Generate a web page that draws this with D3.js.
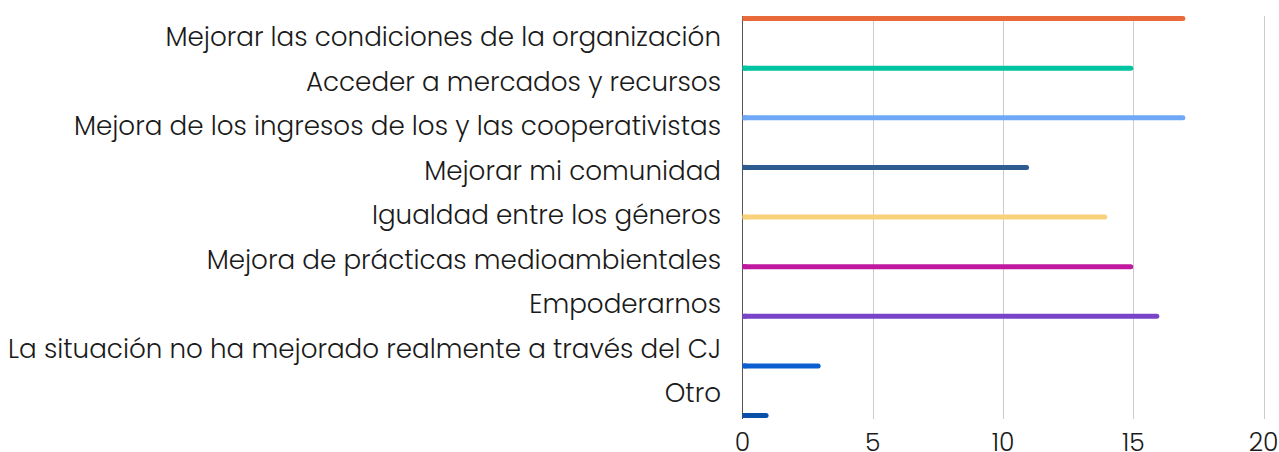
<!DOCTYPE html>
<html>
<head>
<meta charset="utf-8">
<script src="https://cdn.jsdelivr.net/npm/d3@7"></script>
<style>
  body { margin: 0; background: #fff; }
  text { font-family: "Poppins", "Open Sans", sans-serif; font-weight: 300; fill: #1a1a1a; }
</style>
</head>
<body>
<div id="chart"></div>
<script>
var categories = [
  "Mejorar las condiciones de la organización",
  "Acceder a mercados y recursos",
  "Mejora de los ingresos de los y las cooperativistas",
  "Mejorar mi comunidad",
  "Igualdad entre los géneros",
  "Mejora de prácticas medioambientales",
  "Empoderarnos",
  "La situación no ha mejorado realmente a través del CJ",
  "Otro"
];
var values = [17, 15, 17, 11, 14, 15, 16, 3, 1];
var colors = ["#E8693A", "#00C4A0", "#6EA8F7", "#2E5C91", "#F8D17A",
              "#C0189F", "#7A44C8", "#0B5ED0", "#0A4FA8"];
var ticks = [0, 5, 10, 15, 20];

var svgWidth = 1279;
var svgHeight = 452;

var svg = d3.select("#chart")
  .append("svg")
  .attr("width", svgWidth)
  .attr("height", svgHeight);

// scales
var x = d3.scaleLinear().domain([0, 20]).range([742.5, 1263.5]);
var yBar = d3.scalePoint().domain(categories).range([18.5, 415.5]);
var yLabel = d3.scalePoint().domain(categories).range([37, 393]);

// gridlines
svg.append("g")
  .selectAll("line")
  .data(ticks.slice(1))
  .enter()
  .append("line")
  .attr("x1", d => Math.round(x(d)) + 0.5)
  .attr("x2", d => Math.round(x(d)) + 0.5)
  .attr("y1", 16)
  .attr("y2", 419)
  .attr("stroke", "#cccccc")
  .attr("stroke-width", 1);

// axis line
svg.append("line")
  .attr("x1", x(0))
  .attr("x2", x(0))
  .attr("y1", 16)
  .attr("y2", 419)
  .attr("stroke", "#555")
  .attr("stroke-width", 1);

// bars (round cap ends exactly at the value)
svg.append("g")
  .selectAll("line")
  .data(values)
  .enter()
  .append("line")
  .attr("x1", x(0) + 2.5)
  .attr("x2", d => x(d) - 2.5)
  .attr("y1", (d, i) => yBar(categories[i]))
  .attr("y2", (d, i) => yBar(categories[i]))
  .attr("stroke", (d, i) => colors[i])
  .attr("stroke-width", 5)
  .attr("stroke-linecap", "round");

// square left end against the axis
svg.append("g")
  .selectAll("rect")
  .data(values)
  .enter()
  .append("rect")
  .attr("x", x(0))
  .attr("y", (d, i) => yBar(categories[i]) - 2.5)
  .attr("width", 4)
  .attr("height", 5)
  .attr("fill", (d, i) => colors[i]);

// category labels
svg.append("g")
  .selectAll("text")
  .data(categories)
  .enter()
  .append("text")
  .attr("x", 721)
  .attr("y", d => yLabel(d))
  .attr("dy", "0.35em")
  .attr("text-anchor", "end")
  .style("font-size", "26.2px")
  .text(d => d);

// tick labels
svg.append("g")
  .selectAll("text")
  .data(ticks)
  .enter()
  .append("text")
  .attr("x", d => x(d))
  .attr("y", 442)
  .attr("dy", "0.35em")
  .attr("text-anchor", "middle")
  .style("font-size", "25px")
  .text(d => d);
</script>
</body>
</html>
